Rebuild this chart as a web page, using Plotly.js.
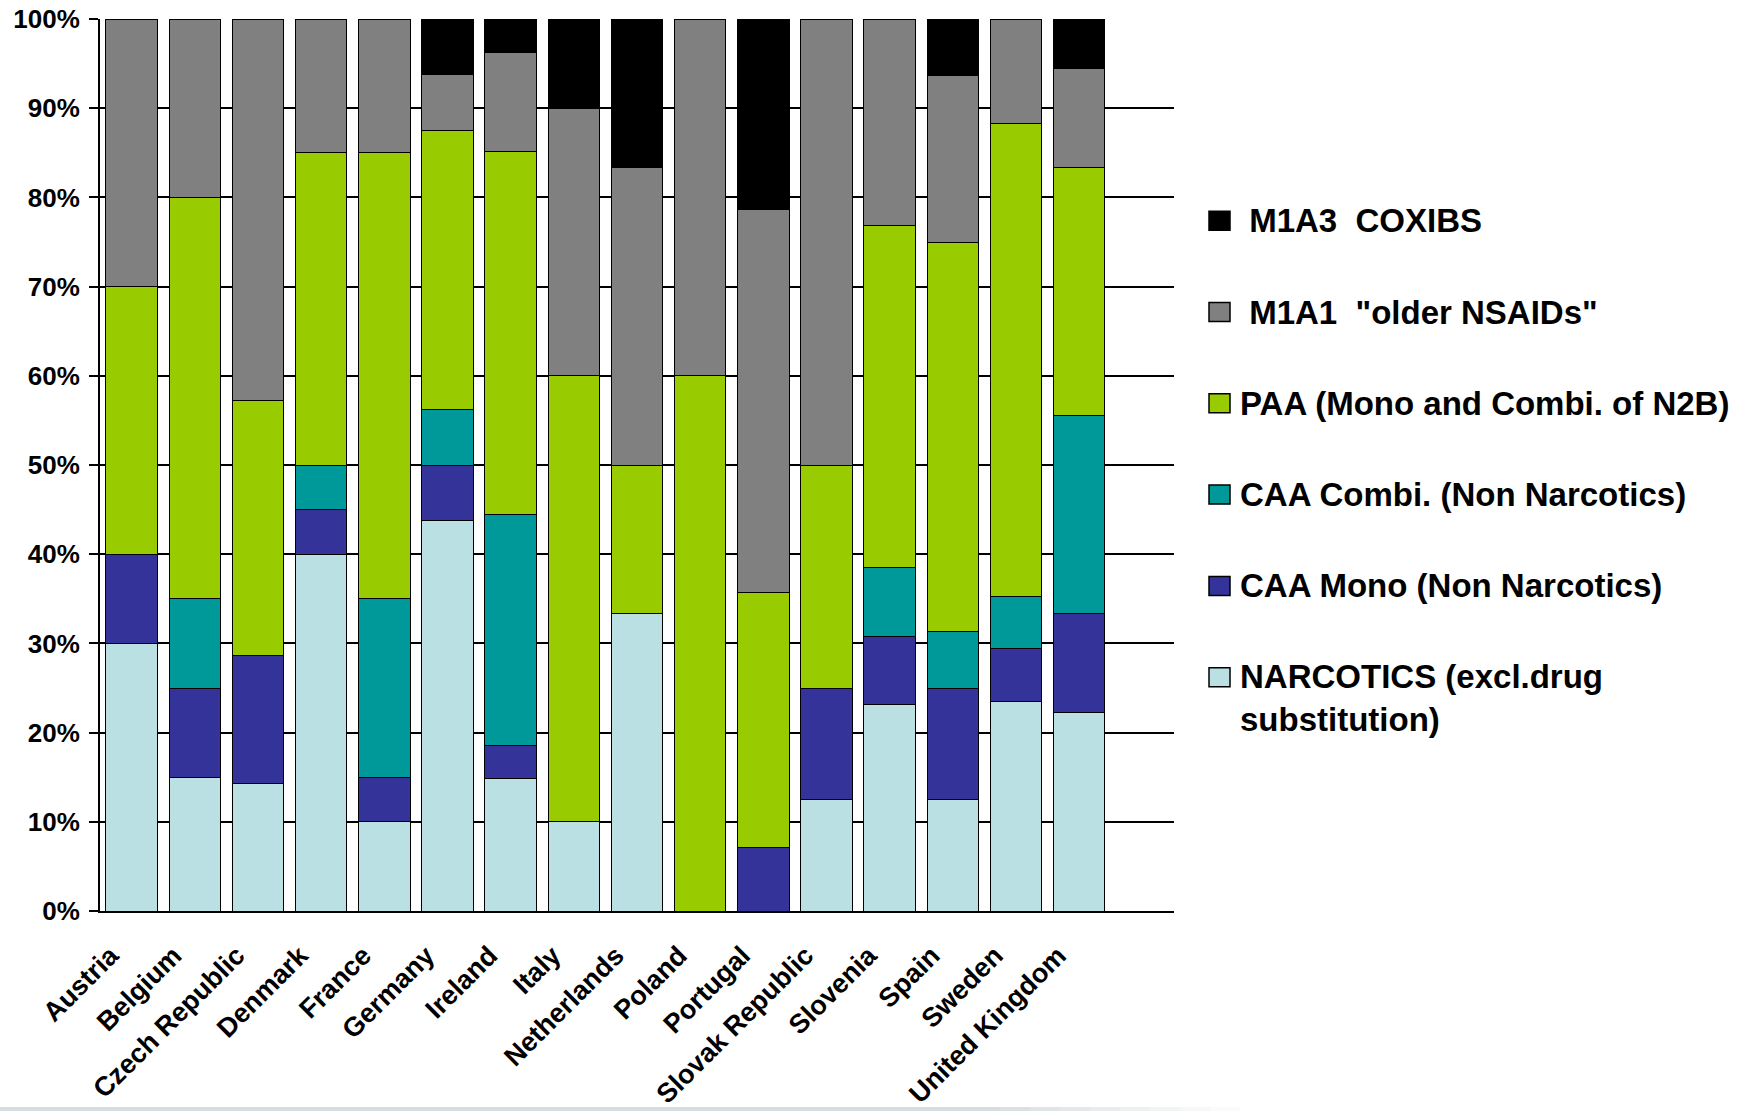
<!DOCTYPE html>
<html>
<head>
<meta charset="utf-8">
<script src="https://cdn.plot.ly/plotly-3.0.1.min.js"></script>
<style>
  html, body { margin: 0; padding: 0; background: #fff; }
  #chart { width: 1760px; height: 1111px; }
</style>
</head>
<body>
<div id="chart"></div>
<script>
// Share of analgesic consumption by drug class, per country (percent of total)
const countries = ['Austria', 'Belgium', 'Czech Republic', 'Denmark', 'France', 'Germany',
  'Ireland', 'Italy', 'Netherlands', 'Poland', 'Portugal', 'Slovak Republic',
  'Slovenia', 'Spain', 'Sweden', 'United Kingdom'];

// Stack order, bottom to top
const narcotics   = [30, 15, 14.3, 40, 10, 43.8, 14.8, 10, 33.3, 0, 0, 12.5, 23.1, 12.5, 23.5, 22.2];
const caaMono     = [10, 10, 14.3, 5, 5, 6.2, 3.7, 0, 0, 0, 7.1, 12.5, 7.7, 12.5, 5.9, 11.1];
const caaCombi    = [0, 10, 0, 5, 20, 6.2, 25.9, 0, 0, 0, 0, 0, 7.7, 6.3, 5.9, 22.2];
const paa         = [30, 45, 28.6, 35, 50, 31.3, 40.8, 50, 16.7, 60, 28.6, 25, 38.4, 43.7, 53, 27.8];
const olderNsaids = [30, 20, 42.8, 15, 15, 6.3, 11.1, 30, 33.3, 40, 42.9, 50, 23.1, 18.7, 11.7, 11.1];
const coxibs      = [0, 0, 0, 0, 0, 6.2, 3.7, 10, 16.7, 0, 21.4, 0, 0, 6.3, 0, 5.6];

const seriesNames = [
  'NARCOTICS (excl.drug<br>substitution)',
  'CAA Mono (Non Narcotics)',
  'CAA Combi. (Non Narcotics)',
  'PAA (Mono and Combi. of N2B)',
  '\u00a0M1A1\u00a0\u00a0"older NSAIDs"',
  '\u00a0M1A3\u00a0\u00a0COXIBS'
];
const seriesValues = [narcotics, caaMono, caaCombi, paa, olderNsaids, coxibs];
const seriesColors = ['#BBE0E3', '#333399', '#009999', '#99CC00', '#808080', '#000000'];

const yTickVals = [0, 10, 20, 30, 40, 50, 60, 70, 80, 90, 100];

const FONT = 'Liberation Sans, Arial, Helvetica, sans-serif';

const traces = seriesValues.map((vals, i) => ({
  type: 'bar',
  name: seriesNames[i],
  x: countries,
  y: vals,
  marker: { color: seriesColors[i], line: { color: '#000', width: 1 } },
  showlegend: false,
  hoverinfo: 'x+y+name'
}));

// Plot area geometry in pixels
const W = 1760, H = 1111;
const M = { l: 100, r: 586, t: 19, b: 200 };
const plotW = W - M.l - M.r;
const plotH = H - M.t - M.b;
const px = x => (x - M.l) / plotW;
const py = y => (H - M.b - y) / plotH;

// Legend drawn as swatches + labels, top entry first
const shapes = [];
const annotations = [];
const legendTop = 220.7, legendStep = 91.3;
for (let k = 0; k < seriesNames.length; k++) {
  const i = seriesNames.length - 1 - k;
  const cy = legendTop + k * legendStep;
  shapes.push({
    type: 'rect', xref: 'paper', yref: 'paper',
    x0: px(1209), x1: px(1230), y0: py(cy - 9.5), y1: py(cy + 9.5),
    fillcolor: seriesColors[i], line: { color: '#000', width: 1.5 }
  });
  const twoLine = seriesNames[i].indexOf('<br>') >= 0;
  annotations.push({
    xref: 'paper', yref: 'paper',
    x: px(1238), y: py(twoLine ? cy + 20.8 : cy),
    xanchor: 'left', yanchor: 'middle', align: 'left',
    showarrow: false,
    text: seriesNames[i],
    font: { family: FONT, size: 33, color: '#000', weight: 'bold' }
  });
}

// Thin grey band along the bottom edge, fading out to the right
shapes.push({
  type: 'rect', xref: 'paper', yref: 'paper', layer: 'below',
  x0: px(0), x1: px(1000), y0: py(1111), y1: py(1107),
  fillcolor: '#d6dde0', line: { width: 0 }
});
const fadeSteps = 8;
for (let s = 0; s < fadeSteps; s++) {
  shapes.push({
    type: 'rect', xref: 'paper', yref: 'paper', layer: 'below',
    x0: px(1000 + s * 30), x1: px(1000 + (s + 1) * 30), y0: py(1111), y1: py(1107),
    fillcolor: '#d6dde0', opacity: 1 - (s + 1) / (fadeSteps + 1), line: { width: 0 }
  });
}

const layout = {
  width: W, height: H,
  margin: M,
  paper_bgcolor: '#fff',
  plot_bgcolor: '#fff',
  barmode: 'stack',
  bargap: 0.185,
  showlegend: false,
  font: { family: FONT, color: '#000' },
  xaxis: {
    type: 'category',
    categoryorder: 'array',
    categoryarray: countries,
    range: [-0.5, 16.5],
    showline: true, linecolor: '#000', linewidth: 2,
    ticks: '',
    tickangle: -45,
    ticklabelstandoff: 16,
    ticklabelshift: -21,
    tickfont: { family: FONT, size: 27, color: '#000', weight: 'bold' },
    showgrid: false, zeroline: false
  },
  xaxis2: {
    overlaying: 'x', anchor: 'y', side: 'bottom',
    type: 'linear', range: [-0.5, 16.5],
    tickmode: 'linear', tick0: -0.5, dtick: 1,
    ticks: 'outside', ticklen: 9, tickwidth: 2, tickcolor: '#000',
    showticklabels: false, showgrid: false, zeroline: false, showline: false
  },
  yaxis: {
    range: [0, 100],
    tickmode: 'array', tickvals: yTickVals,
    ticktext: yTickVals.map(v => v + '%'),
    ticks: 'outside', ticklen: 9, tickwidth: 2, tickcolor: '#000',
    ticklabelstandoff: 4,
    tickfont: { family: FONT, size: 26, color: '#000', weight: 'bold' },
    showline: true, linecolor: '#000', linewidth: 2,
    showgrid: true, gridcolor: '#000', gridwidth: 2,
    zeroline: false
  },
  shapes: shapes,
  annotations: annotations
};

Plotly.newPlot('chart', traces, layout, { displayModeBar: false, staticPlot: true });
</script>
</body>
</html>
